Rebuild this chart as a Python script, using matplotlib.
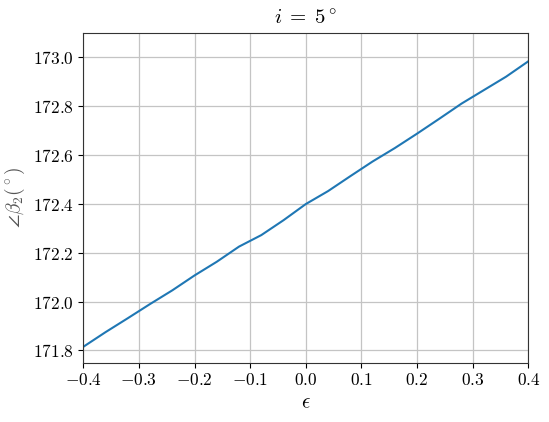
import matplotlib
matplotlib.use('Agg')
from matplotlib import pyplot as plt
from matplotlib.ticker import FuncFormatter

# данные
eps = [-0.40, -0.36, -0.32, -0.28, -0.24, -0.20, -0.16, -0.12, -0.08, -0.04, 0.00,
       0.04, 0.08, 0.12, 0.16, 0.20, 0.24, 0.28, 0.32, 0.36, 0.40]
beta2 = [171.815, 171.875, 171.932, 171.990, 172.046, 172.107, 172.163, 172.225, 172.272, 172.333, 172.399,
         172.452, 172.513, 172.573, 172.628, 172.687, 172.748, 172.810, 172.865, 172.920, 172.983]
x_ticks = [-0.4, -0.3, -0.2, -0.1, 0.0, 0.1, 0.2, 0.3, 0.4]
y_ticks = [171.8, 172.0, 172.2, 172.4, 172.6, 172.8, 173.0]

plt.rcParams['mathtext.fontset'] = 'cm'
plt.rcParams['font.family'] = 'serif'
plt.rcParams['font.serif'] = ['cmr10', 'DejaVu Serif']

fig = plt.figure(figsize=(5.49, 4.22), dpi=100)
ax = fig.add_axes([0.1517, 0.1405, 0.8106, 0.782])

ax.plot(eps, beta2, color='#1f77b4', lw=1.5)
ax.set_xlim(-0.4, 0.4)
ax.set_ylim(171.75, 173.1)
ax.set_xticks(x_ticks)
ax.set_yticks(y_ticks)
ax.xaxis.set_major_formatter(FuncFormatter(lambda v, p: f'${v:.1f}$'))
ax.yaxis.set_major_formatter(FuncFormatter(lambda v, p: f'${v:.1f}$'))
ax.tick_params(labelsize=12.5)
ax.grid(True, color='#c4c4c4', lw=0.9)
ax.set_axisbelow(True)
for s in ax.spines.values():
    s.set_color('#333333')

ax.set_xlabel(r'$\epsilon$', fontsize=15)
ax.set_ylabel(r'$\angle\beta_2(^\circ)$', fontsize=14, color='#555555')
ax.set_title(r'$i\;=\;5^\circ$', fontsize=15)

fig.savefig('out.png', dpi=100)
